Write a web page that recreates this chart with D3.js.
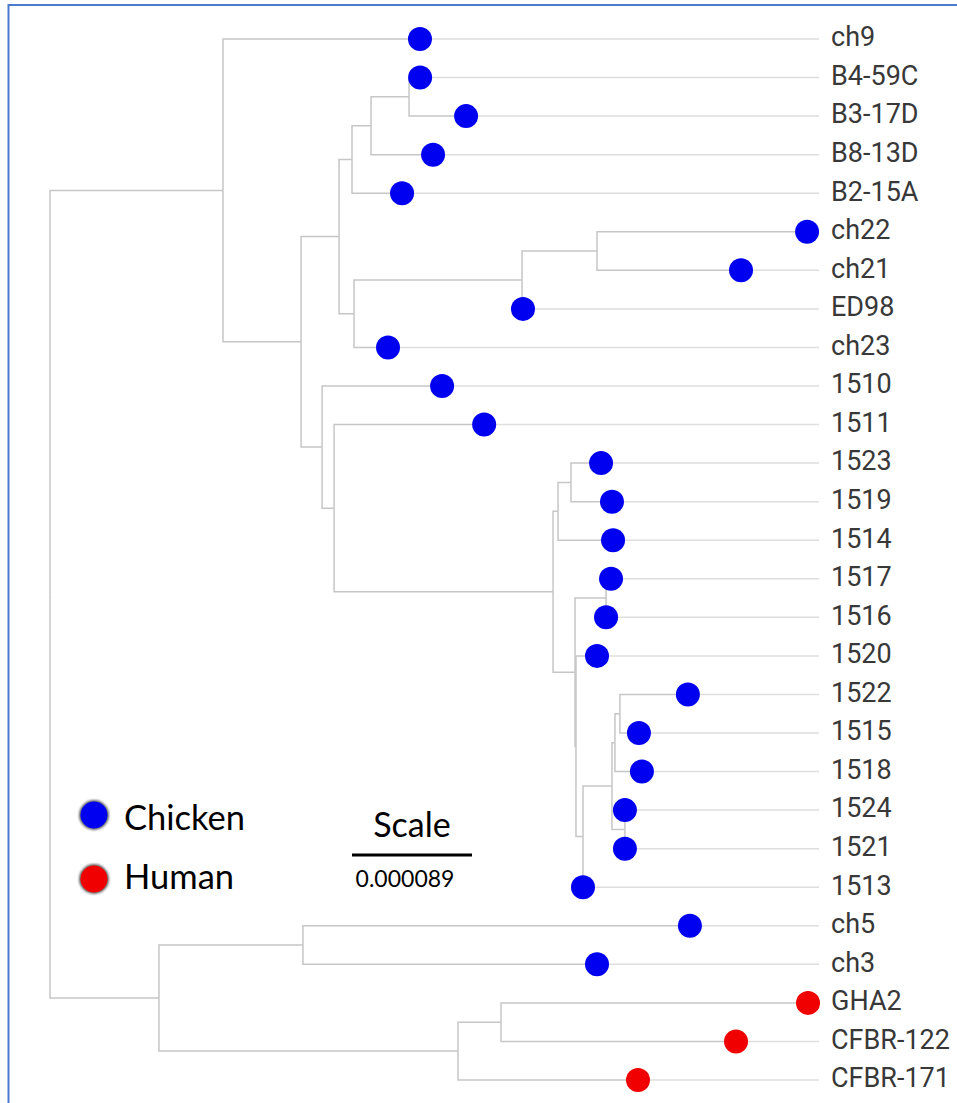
<!DOCTYPE html>
<html lang="en">
<head>
<meta charset="utf-8">
<title>Phylogenetic tree</title>
<script src="https://d3js.org/d3.v7.min.js"></script>
<style>
  body { margin: 0; background: #fff; }
  svg { display: block; }
</style>
</head>
<body>
<div id="chart"></div>
<script>
// tree: node id, parent id, branch length (x 1e-6 substitutions/site)
var nodeIds = ["root", "n1", "ch9", "n2", "n3", "n4", "n5", "n6", "B4-59C", "B3-17D", "B8-13D", "B2-15A",
  "n7", "n8", "n9", "ch22", "ch21", "ED98", "ch23", "n10", "1510", "n11", "1511", "n12", "n13", "n14",
  "1523", "1519", "1514", "n15", "n16", "1517", "1516", "n17", "1520", "n18", "n19", "n20", "n21",
  "1522", "1515", "1518", "n22", "1524", "1521", "1513", "n23", "n24", "ch5", "ch3", "n25", "n26",
  "GHA2", "CFBR-122", "CFBR-171"];
var parentIds = [null, "root", "n1", "n1", "n2", "n3", "n4", "n5", "n6", "n6", "n5", "n4",
  "n3", "n7", "n8", "n9", "n9", "n8", "n7", "n2", "n10", "n10", "n11", "n11", "n12", "n13",
  "n14", "n14", "n13", "n12", "n15", "n16", "n16", "n15", "n17", "n17", "n18", "n19", "n20",
  "n21", "n21", "n20", "n19", "n22", "n22", "n18", "root", "n23", "n24", "n24", "n23", "n25",
  "n26", "n26", "n25"];
var branchLengths = [0, 128.3, 146.1, 57.9, 28.2, 9.6, 14.1, 28.2, 8.2, 42.3, 46.0, 37.1,
  11.1, 124.6, 55.6, 155.8, 106.8, 0.7, 25.2, 15.6, 89.0, 8.9, 111.3, 162.4, 3.7, 9.6,
  22.3, 30.4, 40.8, 16.3, 23.0, 3.7, 0, 0.7, 15.6, 5.2, 21.5, 2.2, 3.7,
  50.4, 14.1, 20.0, 9.6, 0, 0, 0, 80.8, 106.8, 287.0, 218.1, 221.8, 31.9,
  227.7, 174.3, 133.5];

var humanLeaves = ["GHA2", "CFBR-122", "CFBR-171"];

var legendLabels = ["Chicken", "Human"];
var legendColors = ["#0000f0", "#f00000"];

var scaleBarValue = 0.000089;
var scaleBarText = "0.000089";

var w = 957, h = 1103;

var svg = d3.select("#chart").append("svg")
  .attr("width", w)
  .attr("height", h);

var defs = svg.append("defs");
defs.append("filter").attr("id", "soft")
  .append("feGaussianBlur").attr("stdDeviation", 0.9);

// frame
svg.append("rect")
  .attr("x", 8.5).attr("y", 5)
  .attr("width", 1000).attr("height", 1200)
  .attr("fill", "none")
  .attr("stroke", "#4a7bd1")
  .attr("stroke-width", 2);

var rows = nodeIds.map(function(id, i) {
  return { id: id, parent: parentIds[i], length: branchLengths[i] * 1e-6 };
});

var root = d3.stratify()
  .id(function(d) { return d.id; })
  .parentId(function(d) { return d.parent; })(rows);

root.eachBefore(function(d) {
  d.dist = d.parent ? d.parent.dist + d.data.length : 0;
});

var leaves = root.leaves();

var x = d3.scaleLinear()
  .domain([0, scaleBarValue])
  .range([50, 170]);

var y = d3.scaleLinear()
  .domain([0, leaves.length - 1])
  .range([39, 1080]);

leaves.forEach(function(d, i) { d.py = y(i); });
root.eachAfter(function(d) {
  d.px = x(d.dist);
  if (d.children) {
    d.py = (d.children[0].py + d.children[d.children.length - 1].py) / 2;
  }
});

var lineEnd = 819;

// guide from tip to label
svg.append("g").selectAll("line")
  .data(leaves)
  .enter().append("line")
    .attr("x1", function(d) { return d.px; })
    .attr("x2", lineEnd)
    .attr("y1", function(d) { return d.py; })
    .attr("y2", function(d) { return d.py; })
    .attr("stroke", "#dedede")
    .attr("stroke-width", 1.5);

svg.append("g").selectAll("path")
  .data(root.links())
  .enter().append("path")
    .attr("d", function(l) {
      return "M" + l.source.px + "," + l.source.py + "V" + l.target.py + "H" + l.target.px;
    })
    .attr("fill", "none")
    .attr("stroke", "#c6c6c6")
    .attr("stroke-width", 1.5);

svg.append("g").selectAll("circle")
  .data(leaves)
  .enter().append("circle")
    .attr("cx", function(d) { return d.px; })
    .attr("cy", function(d) { return d.py; })
    .attr("r", 12)
    .attr("fill", function(d) {
      return humanLeaves.indexOf(d.id) >= 0 ? legendColors[1] : legendColors[0];
    });

svg.append("g").selectAll("text")
  .data(leaves)
  .enter().append("text")
    .attr("x", 831)
    .attr("y", function(d) { return d.py; })
    .attr("dy", "0.27em")
    .attr("font-family", "Roboto")
    .attr("font-size", 27)
    .attr("fill", "#383838")
    .text(function(d) { return d.id; });

// legend
var legendY = [815, 879];
var legendBase = [830, 889];
var legend = svg.append("g").selectAll("g")
  .data(legendLabels)
  .enter().append("g");

legend.append("circle")
  .attr("cx", 94)
  .attr("cy", function(d, i) { return legendY[i]; })
  .attr("r", 15)
  .attr("fill", "#666")
  .attr("filter", "url(#soft)");
legend.append("circle")
  .attr("cx", 94)
  .attr("cy", function(d, i) { return legendY[i]; })
  .attr("r", 13.5)
  .attr("fill", function(d, i) { return legendColors[i]; });
legend.append("text")
  .attr("x", 124)
  .attr("y", function(d, i) { return legendBase[i]; })
  .attr("font-family", "Lato")
  .attr("font-size", 34.5)
  .attr("fill", "#000")
  .text(function(d) { return d; });

// scale bar
var barX = 352;
var barW = x(scaleBarValue) - x(0);
svg.append("line")
  .attr("x1", barX).attr("x2", barX + barW)
  .attr("y1", 855).attr("y2", 855)
  .attr("stroke", "#000")
  .attr("stroke-width", 3);
svg.append("text")
  .attr("x", barX + barW / 2).attr("y", 837)
  .attr("text-anchor", "middle")
  .attr("font-family", "Lato")
  .attr("font-size", 34)
  .text("Scale");
svg.append("text")
  .attr("x", barX + barW / 2 - 7).attr("y", 887)
  .attr("text-anchor", "middle")
  .attr("font-family", "Lato")
  .attr("font-size", 23)
  .text(scaleBarText);
</script>
</body>
</html>
